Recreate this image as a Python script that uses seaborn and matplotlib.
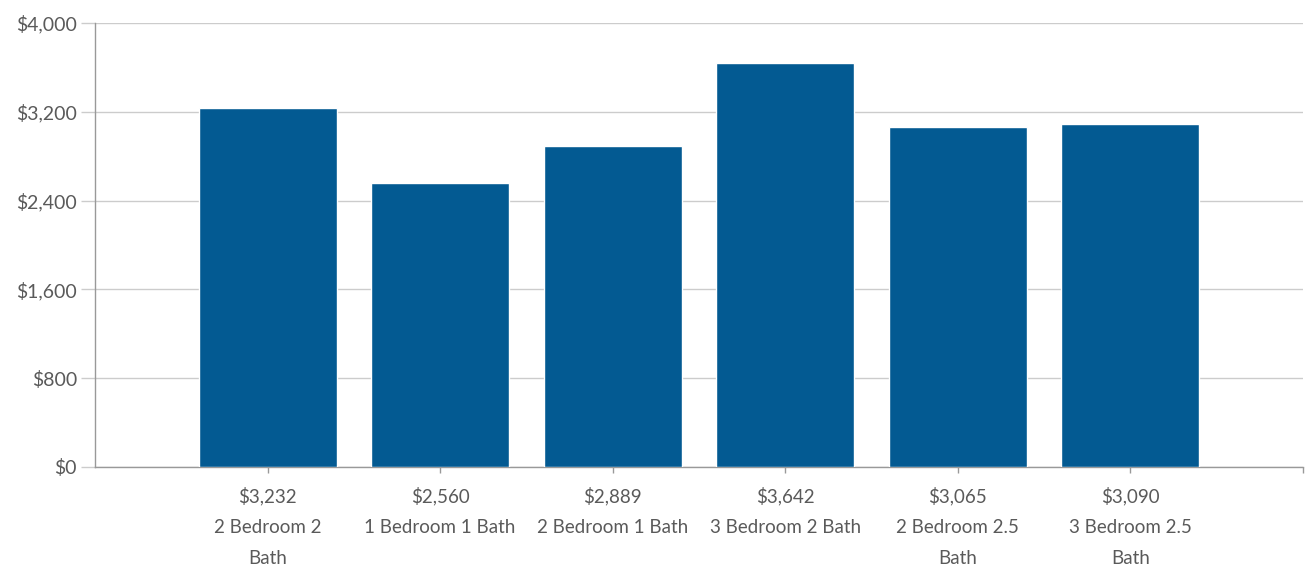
import matplotlib
matplotlib.use("Agg")
import matplotlib.pyplot as plt
import seaborn as sns
import pandas as pd

categories = ["2 Bedroom 2\nBath", "1 Bedroom 1 Bath", "2 Bedroom 1 Bath",
              "3 Bedroom 2 Bath", "2 Bedroom 2.5\nBath", "3 Bedroom 2.5\nBath"]
rents = [3232, 2560, 2889, 3642, 3065, 3090]
y_ticks = [0, 800, 1600, 2400, 3200, 4000]

sns.set_theme(style="white")
plt.rcParams['font.family'] = ['Lato', 'DejaVu Sans']

df = pd.DataFrame({"cat": categories, "rent": rents})

fig = plt.figure(figsize=(13.09, 5.70), dpi=100)
ax = fig.add_axes([0.0726, 0.181, 0.9228, 0.7786])

sns.barplot(data=df, x="cat", y="rent", color="#035A92", width=0.8,
            saturation=1, ax=ax, zorder=3)

ax.set_xlim(-1, 6)
ax.set_ylim(0, 4000)
ax.set_yticks(y_ticks)
ax.set_yticklabels([f"${v:,}" for v in y_ticks])
ax.yaxis.grid(True, color="#cccccc", linewidth=1, zorder=0)

labels = [f"${v:,}\n{c}" for v, c in zip(rents, categories)]
ax.set_xticks(list(range(len(categories))) + [6])
ax.set_xticklabels(labels + [""], linespacing=2.0)

ax.set_xlabel("")
ax.set_ylabel("")
for s in ["top", "right"]:
    ax.spines[s].set_visible(False)
for s in ["left", "bottom"]:
    ax.spines[s].set_color("#999999")
    ax.spines[s].set_linewidth(1)

ax.tick_params(axis="y", length=10, width=1, color="#cccccc", pad=3,
               labelsize=14, labelcolor="#5a5a5a", left=True)
ax.tick_params(axis="x", length=4, width=1, color="#999999", pad=10,
               labelsize=13.5, labelcolor="#5a5a5a", bottom=True)

fig.savefig("out.png", dpi=100)
